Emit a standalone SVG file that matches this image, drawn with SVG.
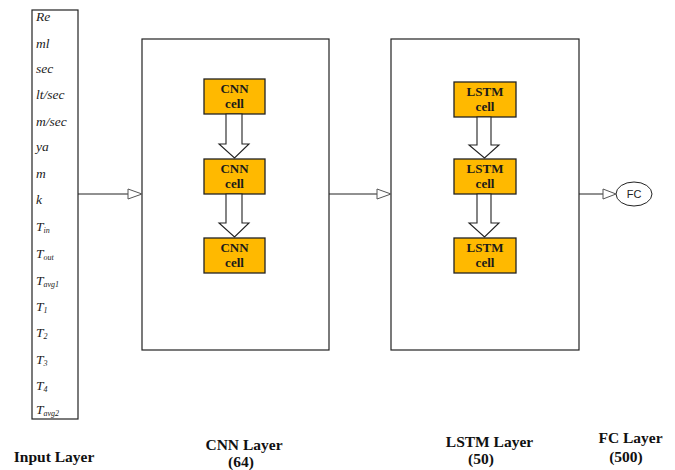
<svg xmlns="http://www.w3.org/2000/svg" width="675" height="470" viewBox="0 0 675 470">
<style>
.box{fill:#fff;stroke:#222;stroke-width:1.2}
.cell{fill:#FFB900;stroke:#222;stroke-width:1.3}
.ct{font-family:"Liberation Serif",serif;font-weight:bold;font-size:13px;fill:#1a1a1a;text-anchor:middle}
.in{font-family:"Liberation Serif",serif;font-style:italic;font-size:13.5px;fill:#222}
.sub{font-size:8px}
.lbl{font-family:"Liberation Serif",serif;font-weight:bold;font-size:15.5px;fill:#111;text-anchor:middle}
.con{stroke:#222;stroke-width:1;fill:none}
.blk{fill:#fff;stroke:#222;stroke-width:1.1}
.head{fill:#fff;stroke:#555;stroke-width:1}
</style>
<rect width="675" height="470" fill="#fff"/>
<g id="input">
<rect class="box" x="32" y="10" width="46" height="409"/>
<text class="in" x="36" y="21">Re</text>
<text class="in" x="36" y="48">ml</text>
<text class="in" x="36" y="73">sec</text>
<text class="in" x="36" y="99">lt/sec</text>
<text class="in" x="36" y="126">m/sec</text>
<text class="in" x="36" y="151">ya</text>
<text class="in" x="36" y="178">m</text>
<text class="in" x="36" y="204">k</text>
<text class="in" x="36" y="231">T<tspan class="sub" dy="2">in</tspan></text>
<text class="in" x="36" y="258">T<tspan class="sub" dy="2">out</tspan></text>
<text class="in" x="36" y="285">T<tspan class="sub" dy="2">avg1</tspan></text>
<text class="in" x="36" y="311">T<tspan class="sub" dy="2">1</tspan></text>
<text class="in" x="36" y="337">T<tspan class="sub" dy="2">2</tspan></text>
<text class="in" x="36" y="364">T<tspan class="sub" dy="2">3</tspan></text>
<text class="in" x="36" y="390">T<tspan class="sub" dy="2">4</tspan></text>
<text class="in" x="36" y="414">T<tspan class="sub" dy="2">avg2</tspan></text>
</g>
<g id="cnn-layer">
<rect class="box" x="142" y="39" width="187" height="311"/>
</g>
<g id="cnn-cell-1"><rect class="cell" x="204" y="79" width="61" height="35"/><text class="ct" x="234.5" y="92.5">CNN</text><text class="ct" x="234.5" y="108">cell</text></g>
<g id="cnn-cell-2"><rect class="cell" x="204" y="159" width="61" height="35"/><text class="ct" x="234.5" y="172.5">CNN</text><text class="ct" x="234.5" y="188">cell</text></g>
<g id="cnn-cell-3"><rect class="cell" x="204" y="238" width="61" height="35"/><text class="ct" x="234.5" y="251.5">CNN</text><text class="ct" x="234.5" y="267">cell</text></g>
<g id="lstm-layer">
<rect class="box" x="391" y="39" width="188" height="311"/>
</g>
<g id="lstm-cell-1"><rect class="cell" x="454" y="82" width="62" height="35"/><text class="ct" x="485" y="95.5">LSTM</text><text class="ct" x="485" y="111">cell</text></g>
<g id="lstm-cell-2"><rect class="cell" x="454" y="159" width="62" height="35"/><text class="ct" x="485" y="172.5">LSTM</text><text class="ct" x="485" y="188">cell</text></g>
<g id="lstm-cell-3"><rect class="cell" x="454" y="238" width="62" height="35"/><text class="ct" x="485" y="251.5">LSTM</text><text class="ct" x="485" y="267">cell</text></g>
<g id="fc">
<ellipse cx="634" cy="194" rx="18" ry="12" fill="#fff" stroke="#222" stroke-width="1"/>
<text x="634" y="198" text-anchor="middle" font-family="Liberation Sans,sans-serif" font-size="11" fill="#222">FC</text>
</g>
<g id="connectors">
<line class="con" x1="78" y1="194" x2="128" y2="194"/>
<polygon class="head" points="128,189 142,194 128,199"/>
<line class="con" x1="329" y1="194" x2="377" y2="194"/>
<polygon class="head" points="377,189 391,194 377,199"/>
<line class="con" x1="579" y1="194" x2="603" y2="194"/>
<polygon class="head" points="603,189 616,194 603,199"/>
<polygon class="blk" points="226,114 242,114 242,144 249,144 234.5,158 219,144 226,144"/>
<polygon class="blk" points="226,194 242,194 242,223 249,223 234.5,237 219,223 226,223"/>
<polygon class="blk" points="477,117 491,117 491,145 499,145 484.5,158 469,145 477,145"/>
<polygon class="blk" points="477,194 491,194 491,223 499,223 484.5,237 469,223 477,223"/>
</g>
<g id="labels">
<text class="lbl" x="54" y="462">Input Layer</text>
<text class="lbl" x="244" y="450">CNN Layer</text>
<text class="lbl" x="241" y="467">(64)</text>
<text class="lbl" x="489.5" y="447">LSTM Layer</text>
<text class="lbl" x="481" y="464">(50)</text>
<text class="lbl" x="630.5" y="443">FC Layer</text>
<text class="lbl" x="626" y="462">(500)</text>
</g>
</svg>
